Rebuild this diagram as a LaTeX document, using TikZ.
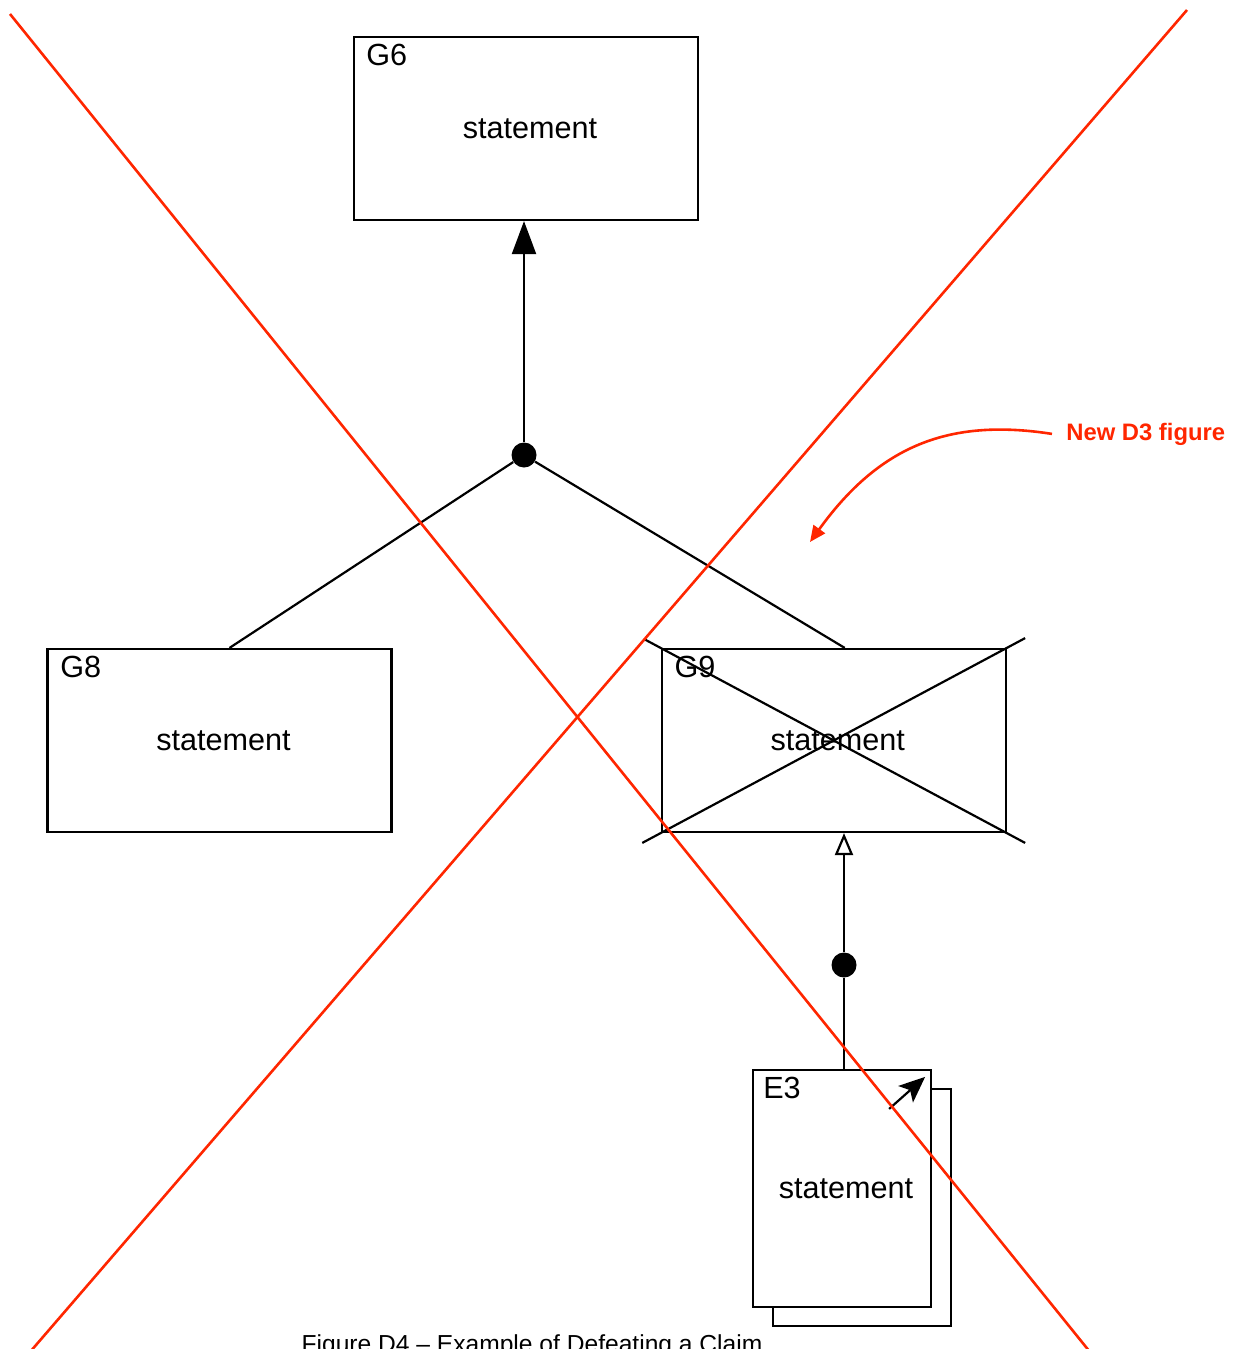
\documentclass[tikz,border=0pt]{standalone}
\usepackage{fontspec}
\setmainfont{Liberation Sans}
\usetikzlibrary{arrows.meta,calc,positioning}
\definecolor{markred}{RGB}{255,38,0}
\tikzset{goal/.style={draw, rectangle, line width=1.1pt, fill=white, minimum width=172pt, minimum height=91.5pt, inner sep=0pt, font=\fontsize{15.3}{18}\selectfont, execute at begin node=\hspace*{4pt}}}
\tikzset{evidence/.style={goal, minimum width=89pt, minimum height=118.5pt}}
\tikzset{tag/.style={anchor=base west, inner sep=0pt, font=\fontsize{15.3}{18}\selectfont}}
\tikzset{joint/.style={circle, fill=black, minimum size=12.5pt, inner sep=0pt}}
\tikzset{line/.style={draw, line width=1.1pt}}
\tikzset{support/.style={line, -{Triangle[length=16.5pt,width=12pt]}}}
\tikzset{context/.style={line, -{Triangle[open,length=11pt,width=9pt]}}}
\tikzset{strike/.style={draw, line width=1.3pt, markred}}
\tikzset{note/.style={anchor=base west, inner sep=0pt, text=markred, font=\bfseries\fontsize{11.9}{14}\selectfont}}

\begin{document}
\begin{tikzpicture}[x=0.5pt, y=-0.5pt]
    \useasboundingbox (0,0) rectangle (1245,1349);

    \node [goal] (g6) at (526,128.5) {statement};
    \node [joint] (j1) at (524,455) {};
    \node [goal] (g8) at (219.5,740.5) {statement};
    \node [goal, right=134pt of g8] (g9) {statement};
    \node [joint] (j2) at (844,965) {};
    \node [evidence] (e3back) at (862,1207.5) {};
    \node [evidence] (e3) at (842,1188.5) {statement};

    \node [tag] (g6tag) at ([shift={(13,30)}]g6.north west) {G6};
    \node [tag] (g8tag) at ([shift={(13.5,30)}]g8.north west) {G8};
    \node [tag] (g9tag) at ([shift={(13.5,30)}]g9.north west) {G9};
    \node [tag] (e3tag) at ([shift={(11,30)}]e3.north west) {E3};

    \path [support] (j1) -- (j1 |- g6.south);
    \path [line] (j1) -- ([xshift=5pt]g8.north);
    \path [line] (j1) -- ([xshift=5.5pt]g9.north);
    \path [context] (j2) -- (j2 |- g9.south);
    \path [line] (e3.north -| j2) -- (j2);

    % defeated claim
    \draw [line] ($(g9.south west)!-0.053!(g9.north east)$) -- ($(g9.south west)!1.053!(g9.north east)$);
    \draw [line] ($(g9.north west)!-0.045!(g9.south east)$) -- ($(g9.north west)!1.053!(g9.south east)$);

    \coordinate (e3from) at ([shift={(-43,40)}]e3.north east);
    \coordinate (e3to) at ([shift={(-7,8)}]e3.north east);
    \draw [line, -{Stealth[length=13pt,width=11pt,inset=3pt]}] (e3from) -- (e3to);

    % red markup
    \draw [strike] (10,14) -- (1090,1352);
    \draw [strike] (1187,10) -- (30,1352);

    \node [note] (d3note) at (1066,440) {New D3 figure};
    \coordinate (d3tip) at (810,542);
    \draw [strike, -{Triangle[length=8pt,width=7pt]}] ([xshift=-7pt]d3note.west) .. controls (950,418) and (880,445) .. (d3tip);

    \node [anchor=base, font=\fontsize{12.3}{14}\selectfont] (caption) at (532,1352) {Figure D4 – Example of Defeating a Claim};
\end{tikzpicture}
\end{document}
